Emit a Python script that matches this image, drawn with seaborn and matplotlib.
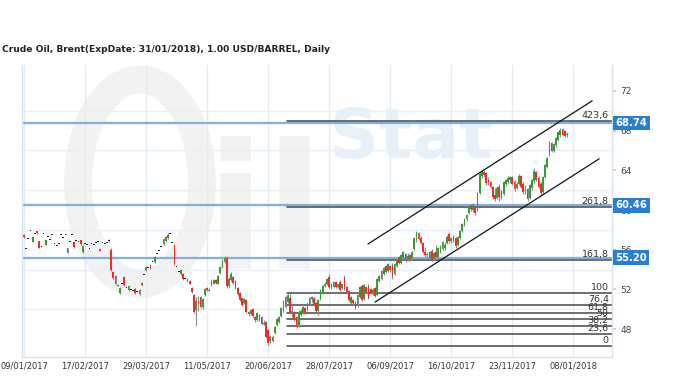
import numpy as np
import pandas as pd
import seaborn as sns
import matplotlib.pyplot as plt
import matplotlib.transforms as mtransforms
from matplotlib.patches import Ellipse

# chart texts
title = "Crude Oil, Brent(ExpDate: 31/01/2018), 1.00 USD/BARREL, Daily"
date_labels = ["09/01/2017", "17/02/2017", "29/03/2017", "11/05/2017", "20/06/2017",
               "28/07/2017", "06/09/2017", "16/10/2017", "23/11/2017", "08/01/2018"]
date_ticks = [0, 28, 56, 84, 112, 140, 168, 196, 224, 252]
price_ticks = [48, 52, 56, 60, 64, 68, 72]

# daily candles (bar index = trading day)
opens = [
    57.5, 56.1, 57.1, 57.9, 56.8, 57.6, 57.9, 56.9, 56.3, 57.6,
    56.5, 57.3, 57.0, 57.5, 56.6, 56.4, 56.6, 57.5, 57.2, 57.5,
    55.7, 56.8, 57.5, 56.8, 56.9, 56.8, 57.0, 55.8, 56.6, 56.5,
    56.1, 56.6, 56.5, 56.7, 56.8, 56.1, 56.7, 56.6, 56.7, 56.9,
    56.0, 53.8, 53.4, 52.5, 51.6, 52.6, 53.3, 52.2, 51.9, 52.0,
    51.9, 52.0, 51.8, 51.5, 52.7, 53.5, 54.0, 54.2, 54.5, 54.8,
    54.8, 55.6, 55.9, 56.3, 56.6, 56.9, 57.5, 57.6, 56.7, 56.5,
    54.3, 53.8, 53.6, 53.6, 53.1, 53.1, 52.9, 52.1, 51.4, 49.9,
    50.8, 51.2, 50.2, 51.4, 52.1, 51.9, 52.4, 52.6, 53.0, 52.6,
    53.7, 54.3, 54.8, 55.2, 52.3, 53.0, 53.3, 52.9, 52.1, 51.6,
    51.1, 50.6, 50.9, 49.7, 49.5, 50.0, 49.2, 48.9, 49.4, 49.2,
    48.7, 48.7, 47.9, 46.8, 47.2, 47.6, 48.4, 48.7, 49.3, 49.8,
    50.2, 50.7, 51.1, 49.6, 49.7, 49.2, 48.4, 49.4, 49.6, 50.1,
    49.9, 50.4, 51.0, 51.1, 50.6, 49.8, 51.0, 51.6, 52.3, 52.5,
    53.3, 52.2, 52.2, 52.8, 52.2, 52.8, 52.1, 53.3, 52.2, 51.8,
    50.6, 50.9, 50.7, 50.3, 51.2, 52.3, 51.0, 52.2, 52.3, 52.0,
    51.6, 52.1, 51.4, 52.9, 53.1, 53.6, 54.4, 53.9, 54.4, 54.5,
    53.6, 54.4, 55.3, 54.7, 55.2, 55.6, 55.0, 55.5, 55.2, 56.1,
    57.0, 57.7, 57.2, 56.7, 55.8, 55.5, 55.8, 55.9, 55.1, 55.8,
    55.3, 55.8, 56.1, 56.2, 56.7, 57.6, 56.9, 57.4, 57.2, 56.5,
    57.2, 57.9, 58.5, 59.1, 59.7, 60.5, 60.0, 60.3, 60.0, 61.7,
    63.4, 63.8, 63.7, 63.0, 62.8, 62.3, 61.5, 61.2, 62.3, 61.9,
    61.6, 62.6, 62.8, 63.0, 63.3, 62.8, 62.2, 62.6, 63.4, 62.6,
    61.9, 62.1, 61.2, 62.2, 62.9, 63.8, 63.2, 62.6, 61.8, 63.3,
    64.3, 65.5, 66.7, 65.9, 66.5, 67.0, 67.6, 68.2, 68.0, 67.6,
]
highs = [
    57.6, 56.1, 57.1, 57.9, 57.4, 57.6, 57.9, 56.9, 56.3, 57.6,
    57.0, 57.3, 57.0, 57.5, 56.6, 56.4, 56.6, 57.5, 57.2, 57.5,
    56.2, 56.8, 57.5, 56.8, 56.9, 56.8, 57.0, 56.5, 56.6, 56.5,
    56.1, 56.6, 56.5, 56.7, 56.8, 56.1, 56.7, 56.6, 56.7, 57.1,
    56.2, 53.9, 53.5, 52.6, 52.2, 52.6, 53.4, 52.2, 52.4, 52.0,
    51.9, 52.1, 51.8, 52.0, 52.8, 53.5, 54.4, 54.2, 54.6, 54.8,
    55.4, 55.6, 55.9, 56.3, 57.2, 57.4, 57.7, 57.6, 56.7, 56.6,
    54.3, 53.8, 54.1, 53.7, 53.1, 53.2, 53.0, 52.2, 51.5, 51.2,
    51.3, 51.3, 51.1, 52.1, 52.2, 52.1, 53.1, 53.1, 53.1, 53.5,
    54.4, 55.1, 55.4, 55.4, 53.3, 53.8, 53.4, 53.0, 52.2, 51.7,
    51.2, 51.1, 51.0, 49.8, 50.0, 50.1, 49.3, 49.7, 49.5, 49.3,
    48.9, 48.8, 48.0, 47.4, 47.4, 48.3, 49.1, 49.3, 50.2, 50.9,
    51.3, 51.5, 51.5, 50.4, 49.8, 49.3, 49.9, 50.0, 50.3, 50.2,
    50.7, 51.2, 51.3, 51.2, 50.7, 51.0, 52.0, 52.4, 52.8, 53.2,
    53.6, 52.7, 52.9, 52.9, 52.6, 53.0, 52.6, 53.5, 52.3, 51.9,
    51.3, 51.0, 50.8, 51.5, 52.3, 52.5, 52.5, 52.3, 52.5, 52.1,
    52.1, 52.2, 53.2, 53.5, 54.0, 54.3, 54.5, 54.7, 54.5, 54.7,
    54.7, 55.1, 55.4, 55.6, 55.9, 55.7, 55.7, 55.6, 55.9, 57.3,
    57.9, 57.8, 57.4, 56.8, 56.3, 55.8, 55.9, 56.1, 55.8, 56.5,
    56.3, 56.5, 56.9, 56.8, 57.5, 57.8, 57.3, 57.5, 57.3, 57.4,
    58.0, 58.7, 59.2, 59.6, 60.5, 60.6, 60.7, 60.4, 61.8, 63.8,
    64.0, 64.0, 63.8, 63.3, 62.9, 62.4, 62.2, 62.4, 62.6, 62.0,
    62.9, 63.1, 63.4, 63.4, 63.4, 63.0, 62.8, 63.6, 63.5, 62.8,
    62.5, 62.2, 62.6, 63.1, 64.2, 63.9, 63.4, 62.8, 63.4, 64.6,
    65.3, 66.9, 66.8, 66.7, 67.4, 68.0, 68.3, 68.3, 68.1, 67.9,
]
lows = [
    57.2, 56.1, 57.1, 57.9, 56.8, 57.6, 57.6, 56.2, 56.3, 57.6,
    56.5, 57.3, 57.0, 57.5, 56.6, 56.4, 56.6, 57.5, 57.2, 57.5,
    55.7, 56.8, 57.5, 56.2, 56.9, 56.8, 56.5, 55.7, 56.6, 56.5,
    56.1, 56.6, 56.5, 56.7, 56.8, 55.9, 56.7, 56.6, 56.7, 56.8,
    53.9, 53.1, 52.5, 52.3, 51.5, 52.6, 52.3, 52.2, 51.8, 52.0,
    51.9, 51.5, 51.8, 51.4, 52.3, 53.5, 53.9, 54.2, 54.1, 54.8,
    54.7, 55.6, 55.9, 56.3, 56.5, 56.8, 57.1, 57.6, 56.7, 54.5,
    54.3, 53.8, 53.5, 53.0, 53.1, 52.8, 52.5, 51.6, 49.6, 48.3,
    49.8, 50.1, 50.0, 51.3, 51.8, 51.8, 52.3, 52.5, 52.6, 52.5,
    53.6, 54.2, 54.7, 52.1, 52.1, 52.9, 52.6, 52.0, 51.3, 50.8,
    50.3, 50.5, 49.6, 49.3, 49.4, 49.2, 48.7, 48.8, 48.8, 48.4,
    48.4, 47.1, 46.4, 46.6, 46.7, 47.5, 48.3, 48.6, 49.2, 49.7,
    50.1, 50.6, 49.5, 49.2, 48.8, 48.1, 48.2, 49.3, 49.5, 49.5,
    49.8, 50.3, 50.7, 50.3, 49.7, 49.4, 50.9, 51.5, 52.2, 52.4,
    52.1, 52.0, 52.1, 52.1, 52.1, 51.8, 52.0, 51.9, 51.6, 50.8,
    50.5, 50.4, 50.0, 50.2, 51.1, 50.8, 50.9, 51.5, 51.0, 51.5,
    51.4, 51.2, 51.3, 52.8, 53.0, 53.5, 53.7, 53.8, 53.8, 53.1,
    53.5, 54.3, 54.6, 54.6, 55.1, 54.8, 54.9, 54.9, 55.1, 56.0,
    56.8, 57.0, 56.6, 55.7, 55.3, 55.2, 55.1, 54.9, 55.0, 55.2,
    55.2, 55.7, 56.0, 56.0, 56.6, 56.7, 56.7, 56.8, 56.2, 56.4,
    57.1, 57.8, 58.4, 58.9, 59.6, 59.9, 59.8, 59.5, 59.9, 61.6,
    63.2, 63.3, 62.5, 62.5, 62.2, 61.1, 60.9, 61.1, 60.9, 61.1,
    61.5, 62.4, 62.6, 62.7, 62.5, 61.9, 62.1, 62.5, 62.2, 61.6,
    61.6, 60.9, 61.1, 62.0, 62.7, 62.9, 62.2, 61.5, 61.6, 63.2,
    64.2, 65.4, 65.8, 65.8, 66.3, 66.9, 67.4, 67.5, 67.4, 67.4,
]
closes = [
    57.3, 56.1, 57.1, 57.9, 57.3, 57.6, 57.7, 56.2, 56.3, 57.6,
    57.0, 57.3, 57.0, 57.5, 56.6, 56.4, 56.6, 57.5, 57.2, 57.5,
    56.2, 56.8, 57.5, 56.3, 56.9, 56.8, 56.6, 56.4, 56.6, 56.5,
    56.1, 56.6, 56.5, 56.7, 56.8, 55.9, 56.7, 56.6, 56.7, 56.9,
    54.0, 53.2, 52.6, 52.4, 52.1, 52.6, 52.4, 52.2, 52.3, 52.0,
    51.9, 51.6, 51.8, 51.9, 52.4, 53.5, 54.3, 54.2, 54.2, 54.8,
    55.3, 55.6, 55.9, 56.3, 57.1, 57.3, 57.2, 57.6, 56.7, 54.6,
    54.3, 53.8, 54.0, 53.1, 53.1, 52.9, 52.6, 51.7, 49.7, 50.8,
    50.6, 50.2, 51.0, 52.0, 51.9, 52.0, 52.9, 53.0, 52.7, 53.4,
    54.3, 54.9, 55.2, 52.3, 53.1, 53.6, 52.7, 52.1, 51.5, 50.9,
    50.4, 51.0, 49.7, 49.5, 49.9, 49.3, 48.9, 49.6, 48.9, 48.5,
    48.6, 47.2, 46.6, 47.2, 46.8, 48.2, 49.0, 49.2, 50.1, 50.8,
    51.2, 51.4, 49.6, 49.8, 48.9, 48.2, 49.7, 49.8, 50.2, 49.6,
    50.6, 51.1, 51.2, 50.4, 49.8, 50.9, 51.9, 52.3, 52.6, 53.1,
    52.2, 52.5, 52.8, 52.2, 52.5, 51.9, 52.5, 52.0, 51.7, 50.9,
    51.2, 50.6, 50.1, 51.4, 52.2, 50.9, 52.4, 51.7, 51.1, 51.6,
    51.9, 51.3, 53.1, 53.4, 53.9, 54.2, 53.8, 54.6, 54.0, 53.4,
    54.6, 55.0, 54.7, 55.5, 55.8, 54.9, 55.4, 55.1, 55.8, 57.2,
    57.8, 57.1, 56.7, 55.8, 55.5, 55.6, 55.2, 55.0, 55.7, 55.3,
    56.2, 56.4, 56.8, 56.5, 57.3, 56.9, 57.2, 56.9, 56.4, 57.3,
    57.9, 58.6, 59.1, 59.5, 60.4, 60.1, 60.5, 59.7, 61.7, 63.6,
    63.8, 63.5, 62.7, 62.8, 62.3, 61.3, 61.1, 62.2, 61.3, 61.3,
    62.8, 63.0, 63.2, 63.3, 62.6, 62.1, 62.6, 63.4, 62.3, 61.8,
    62.1, 61.1, 62.5, 63.0, 63.9, 63.0, 62.3, 61.7, 63.3, 64.5,
    65.2, 66.8, 65.9, 66.6, 67.3, 67.9, 68.1, 67.6, 67.5, 67.7,
]

# horizontal price levels with their blue boxes
level_prices = [68.74, 60.46, 55.20]
level_labels = ["68.74", "60.46", "55.20"]

# fibonacci extension levels
fib_labels = ["0", "23,6", "38,2", "50", "61,8", "76,4", "100", "161,8", "261,8", "423,6"]
fib_prices = [46.3, 47.56, 48.35, 48.98, 49.61, 50.39, 51.65, 54.96, 60.32, 68.98]
fib_start = 120.6

# trend channel (start / end points)
channel_x = [[157.8, 260.6], [161.0, 263.8]]
channel_y = [[56.58, 70.99], [50.73, 65.15]]

sns.set_theme(style="white")
plt.rcParams["font.family"] = ["DejaVu Sans"]

df = pd.DataFrame({"open": opens, "high": highs, "low": lows, "close": closes})
df["bar"] = np.arange(len(df))
df["color"] = np.where(df.close > df.open, "#3a9a34",
                       np.where(df.close < df.open, "#ee2c2c", "#222222"))

fig = plt.figure(figsize=(6.8, 3.8), dpi=100)
ax = fig.add_axes([22 / 680, 1 - 357 / 380, 590 / 680, 292 / 380])
ax.set_xlim(-0.9, 269.7)
ax.set_ylim(45.2, 74.6)

# watermark (faint logo)
ax.add_patch(Ellipse((0.2, 0.6), 0.21, 0.7, transform=ax.transAxes, fill=False,
                     ec="#f2f2f2", lw=20, zorder=0))
ax.text(0.31, 0.3, "il", transform=ax.transAxes, fontsize=125, fontweight="bold",
        color="#f2f2f2", zorder=0)
ax.text(0.52, 0.68, "Stat", transform=ax.transAxes, fontsize=50, fontweight="bold",
        color="#e8f1fa", zorder=0)

# grid
for t in date_ticks:
    ax.axvline(t, color="#e3ecf5", lw=1, zorder=1)
for p in [50, 54, 58, 62, 66, 70]:
    ax.axhline(p, color="#e8eff6", lw=1, zorder=1)

# candles
ax.vlines(df.bar, df.low, df.high, color="#8c8c8c", lw=0.8, zorder=3)
body_low = np.minimum(df.open, df.close)
body_h = (df.open - df.close).abs()
doji = body_h < 0.12
body_low = np.where(doji, body_low - 0.06, body_low)
body_h = np.where(doji, 0.13, body_h)
ax.bar(df.bar, body_h, bottom=body_low, width=0.8, color=df.color, lw=0, zorder=4)

# level lines
for p in level_prices:
    ax.axhline(p, color="#7fb0e0", lw=1.6, zorder=2)

# fib lines
fib_end = ax.get_xlim()[1]
for lab, p in zip(fib_labels, fib_prices):
    ax.plot([fib_start, fib_end], [p, p], color="#555555", lw=1.2, zorder=2)
    ax.text(fib_end - 1.5, p + 0.1, lab, ha="right", va="bottom", fontsize=6.8,
            color="#333333", zorder=5)

# channel
for xs, ys in zip(channel_x, channel_y):
    ax.plot(xs, ys, color="#111111", lw=0.9, zorder=5)

# axes styling
ax.spines["top"].set_visible(False)
for s in ["left", "right", "bottom"]:
    ax.spines[s].set_color("#d6e3ef")
    ax.spines[s].set_linewidth(1)
ax.set_xticks(date_ticks)
ax.set_xticklabels(date_labels, fontsize=6, color="#333333")
ax.tick_params(axis="x", length=0, pad=3)
ax.yaxis.tick_right()
ax.set_yticks(price_ticks)
ax.set_yticklabels([str(p) for p in price_ticks], fontsize=6.5, color="#444444")
ax.tick_params(axis="y", length=3, color="#cccccc", pad=3)

# price boxes
trans = mtransforms.blended_transform_factory(ax.transAxes, ax.transData)
for p, lab in zip(level_prices, level_labels):
    ax.text(1.006, p, lab, transform=trans, ha="left", va="center", fontsize=7.2,
            color="white", fontweight="bold", clip_on=False, zorder=6,
            bbox=dict(boxstyle="square,pad=0.22", fc="#2b7dd2", ec="none"))

fig.text(2 / 680, 1 - 50 / 380, title, ha="left", va="center", fontsize=6.6,
         fontweight="bold", color="#222222")

fig.savefig("out.png", dpi=100)
